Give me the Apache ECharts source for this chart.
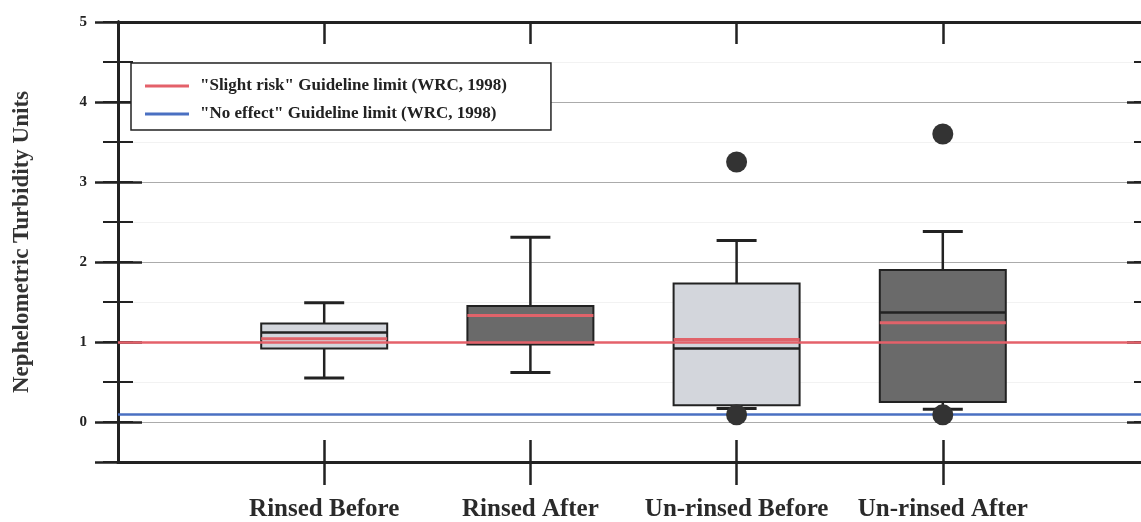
<!DOCTYPE html>
<html>
<head>
<meta charset="utf-8">
<script src="https://cdn.jsdelivr.net/npm/echarts@6/dist/echarts.min.js"></script>
<style>
  html, body { margin: 0; padding: 0; background: #fff; }
  #chart { width: 1141px; height: 522px; }
</style>
</head>
<body>
<div id="chart"></div>
<script>
var categories = ['Rinsed Before', 'Rinsed After', 'Un-rinsed Before', 'Un-rinsed After']
// [min, Q1, median, Q3, max]
var boxStats = [
  [0.55, 0.92, 1.12, 1.23, 1.49],
  [0.62, 0.97, 1.33, 1.45, 2.31],
  [0.17, 0.21, 0.92, 1.73, 2.27],
  [0.16, 0.25, 1.37, 1.90, 2.38],
]
var means = [1.04, 1.33, 1.03, 1.24]
// [category index, value]
var outliers = [[2, 3.25], [2, 0.09], [3, 3.60], [3, 0.09]]
var boxColors = ['#d3d6dc', '#6a6a6a', '#d3d6dc', '#6a6a6a']
var slightRisk = 1.0
var noEffect = 0.1
var slightName = '"Slight risk" Guideline limit (WRC, 1998)'
var noEffectName = '"No effect" Guideline limit (WRC, 1998)'

var serif = 'Liberation Serif'
var ink = '#222'
// empty slot at each end so the boxes sit where the original put them
var slots = [''].concat(categories, [''])
var inner = function (i) {
  return i > 0 && i < slots.length - 1
}
var boxHalf = 63
var capHalf = 20

function renderBox(params, api) {
  var x = api.value(0)
  var pMin = api.coord([x, api.value(1)])
  var pQ1 = api.coord([x, api.value(2)])
  var pMed = api.coord([x, api.value(3)])
  var pQ3 = api.coord([x, api.value(4)])
  var pMax = api.coord([x, api.value(5)])
  var cx = pMed[0]
  var thin = { stroke: ink, lineWidth: 2.5 }
  var cap = { stroke: ink, lineWidth: 3 }
  return {
    type: 'group',
    children: [
      { type: 'line', shape: { x1: cx, y1: pMax[1], x2: cx, y2: pQ3[1] }, style: thin },
      { type: 'line', shape: { x1: cx, y1: pQ1[1], x2: cx, y2: pMin[1] }, style: thin },
      { type: 'line', shape: { x1: cx - capHalf, y1: pMax[1], x2: cx + capHalf, y2: pMax[1] }, style: cap },
      { type: 'line', shape: { x1: cx - capHalf, y1: pMin[1], x2: cx + capHalf, y2: pMin[1] }, style: cap },
      {
        type: 'rect',
        shape: { x: cx - boxHalf, y: pQ3[1], width: boxHalf * 2, height: pQ1[1] - pQ3[1] },
        style: { fill: boxColors[params.dataIndex], stroke: ink, lineWidth: 2 },
      },
      { type: 'line', shape: { x1: cx - boxHalf, y1: pMed[1], x2: cx + boxHalf, y2: pMed[1] }, style: { stroke: ink, lineWidth: 2.5 } },
    ],
  }
}

function renderMean(params, api) {
  var p = api.coord([api.value(0), api.value(1)])
  return {
    type: 'line',
    shape: { x1: p[0] - boxHalf, y1: p[1], x2: p[0] + boxHalf, y2: p[1] },
    style: { stroke: '#e0636a', lineWidth: 3 },
  }
}

function catAxis(position, tickInside, tickLen, showLabel) {
  return {
    type: 'category',
    position: position,
    data: slots,
    boundaryGap: false,
    axisLine: { show: true, onZero: false, lineStyle: { color: ink, width: 3 } },
    axisTick: { show: true, inside: tickInside, length: tickLen, interval: inner, lineStyle: { color: ink, width: 2.5 } },
    axisLabel: {
      show: showLabel,
      interval: inner,
      margin: 35,
      color: '#2a2a2a',
      fontFamily: serif,
      fontWeight: 'bold',
      fontSize: 25,
    },
    splitLine: { show: false },
  }
}

// nice ticks at whole numbers (long) and every 0.5 (short)
function valAxis(position, whole, tickInside, tickLen, extra) {
  var axis = {
    type: 'value',
    position: position,
    min: -0.5,
    max: 5,
    axisLine: { show: true, onZero: false, lineStyle: { color: ink, width: 3 } },
    axisTick: { show: true, inside: tickInside, length: tickLen, lineStyle: { color: ink, width: whole ? 2.5 : 2 } },
    axisLabel: { show: false },
    splitLine: { show: false },
  }
  if (whole) {
    axis.splitNumber = 5
  } else {
    axis.interval = 0.5
  }
  return Object.assign(axis, extra || {})
}

var chart = echarts.init(document.getElementById('chart'))
chart.setOption({
  animation: false,
  backgroundColor: '#fff',
  grid: { left: 118, width: 1031, top: 22, bottom: 60, outerBoundsMode: 'none', containLabel: false },
  legend: {
    left: 131,
    top: 63,
    orient: 'vertical',
    icon: 'rect',
    itemWidth: 44,
    itemHeight: 3,
    itemGap: 8,
    padding: [13, 44, 6, 14],
    borderColor: ink,
    borderWidth: 1.5,
    backgroundColor: '#fff',
    textStyle: {
      fontFamily: serif,
      fontWeight: 'bold',
      fontSize: 17,
      lineHeight: 20,
      color: ink,
      padding: [0, 0, 0, 6],
    },
    data: [slightName, noEffectName],
  },
  xAxis: [
    catAxis('bottom', false, 23, true),
    catAxis('bottom', true, 22, false),
    catAxis('top', true, 22, false),
  ],
  yAxis: [
    valAxis('left', true, false, 23, {
      name: 'Nephelometric Turbidity Units',
      nameLocation: 'middle',
      nameRotate: 90,
      nameGap: 84,
      nameTextStyle: { fontFamily: serif, fontWeight: 'bold', fontSize: 23, color: '#333' },
      axisLabel: {
        show: true,
        margin: 31,
        color: ink,
        fontFamily: serif,
        fontWeight: 'bold',
        fontSize: 15,
        formatter: function (v) {
          return v >= 0 && v % 1 === 0 ? String(v) : ''
        },
      },
      splitLine: { show: true, lineStyle: { color: '#b5b5b5', width: 1 } },
    }),
    valAxis('left', true, true, 24),
    valAxis('left', false, false, 15, {
      splitLine: { show: true, lineStyle: { color: 'rgba(0,0,0,0.05)', width: 1 } },
    }),
    valAxis('left', false, true, 15),
    valAxis('right', true, true, 22),
    valAxis('right', false, true, 15),
  ],
  series: [
    {
      type: 'custom',
      name: 'boxes',
      renderItem: renderBox,
      encode: { x: 0, y: [1, 2, 3, 4, 5] },
      data: boxStats.map(function (b, i) {
        return [i + 1].concat(b)
      }),
      z: 3,
    },
    {
      type: 'custom',
      name: 'means',
      renderItem: renderMean,
      encode: { x: 0, y: 1 },
      data: means.map(function (m, i) {
        return [i + 1, m]
      }),
      z: 4,
    },
    {
      type: 'scatter',
      name: 'outliers',
      symbol: 'circle',
      symbolSize: 21,
      itemStyle: { color: '#333', opacity: 1 },
      data: outliers.map(function (o) {
        return [o[0] + 1, o[1]]
      }),
      z: 5,
    },
    {
      type: 'line',
      name: slightName,
      data: [],
      color: '#e4616a',
      z: 6,
      markLine: {
        silent: true,
        symbol: 'none',
        label: { show: false },
        lineStyle: { color: '#e4616a', width: 2.5, type: 'solid' },
        data: [{ yAxis: slightRisk }],
      },
    },
    {
      type: 'line',
      name: noEffectName,
      data: [],
      color: '#4a70c2',
      z: 6,
      markLine: {
        silent: true,
        symbol: 'none',
        label: { show: false },
        lineStyle: { color: '#4a70c2', width: 2.5, type: 'solid' },
        data: [{ yAxis: noEffect }],
      },
    },
  ],
})
</script>
</body>
</html>
